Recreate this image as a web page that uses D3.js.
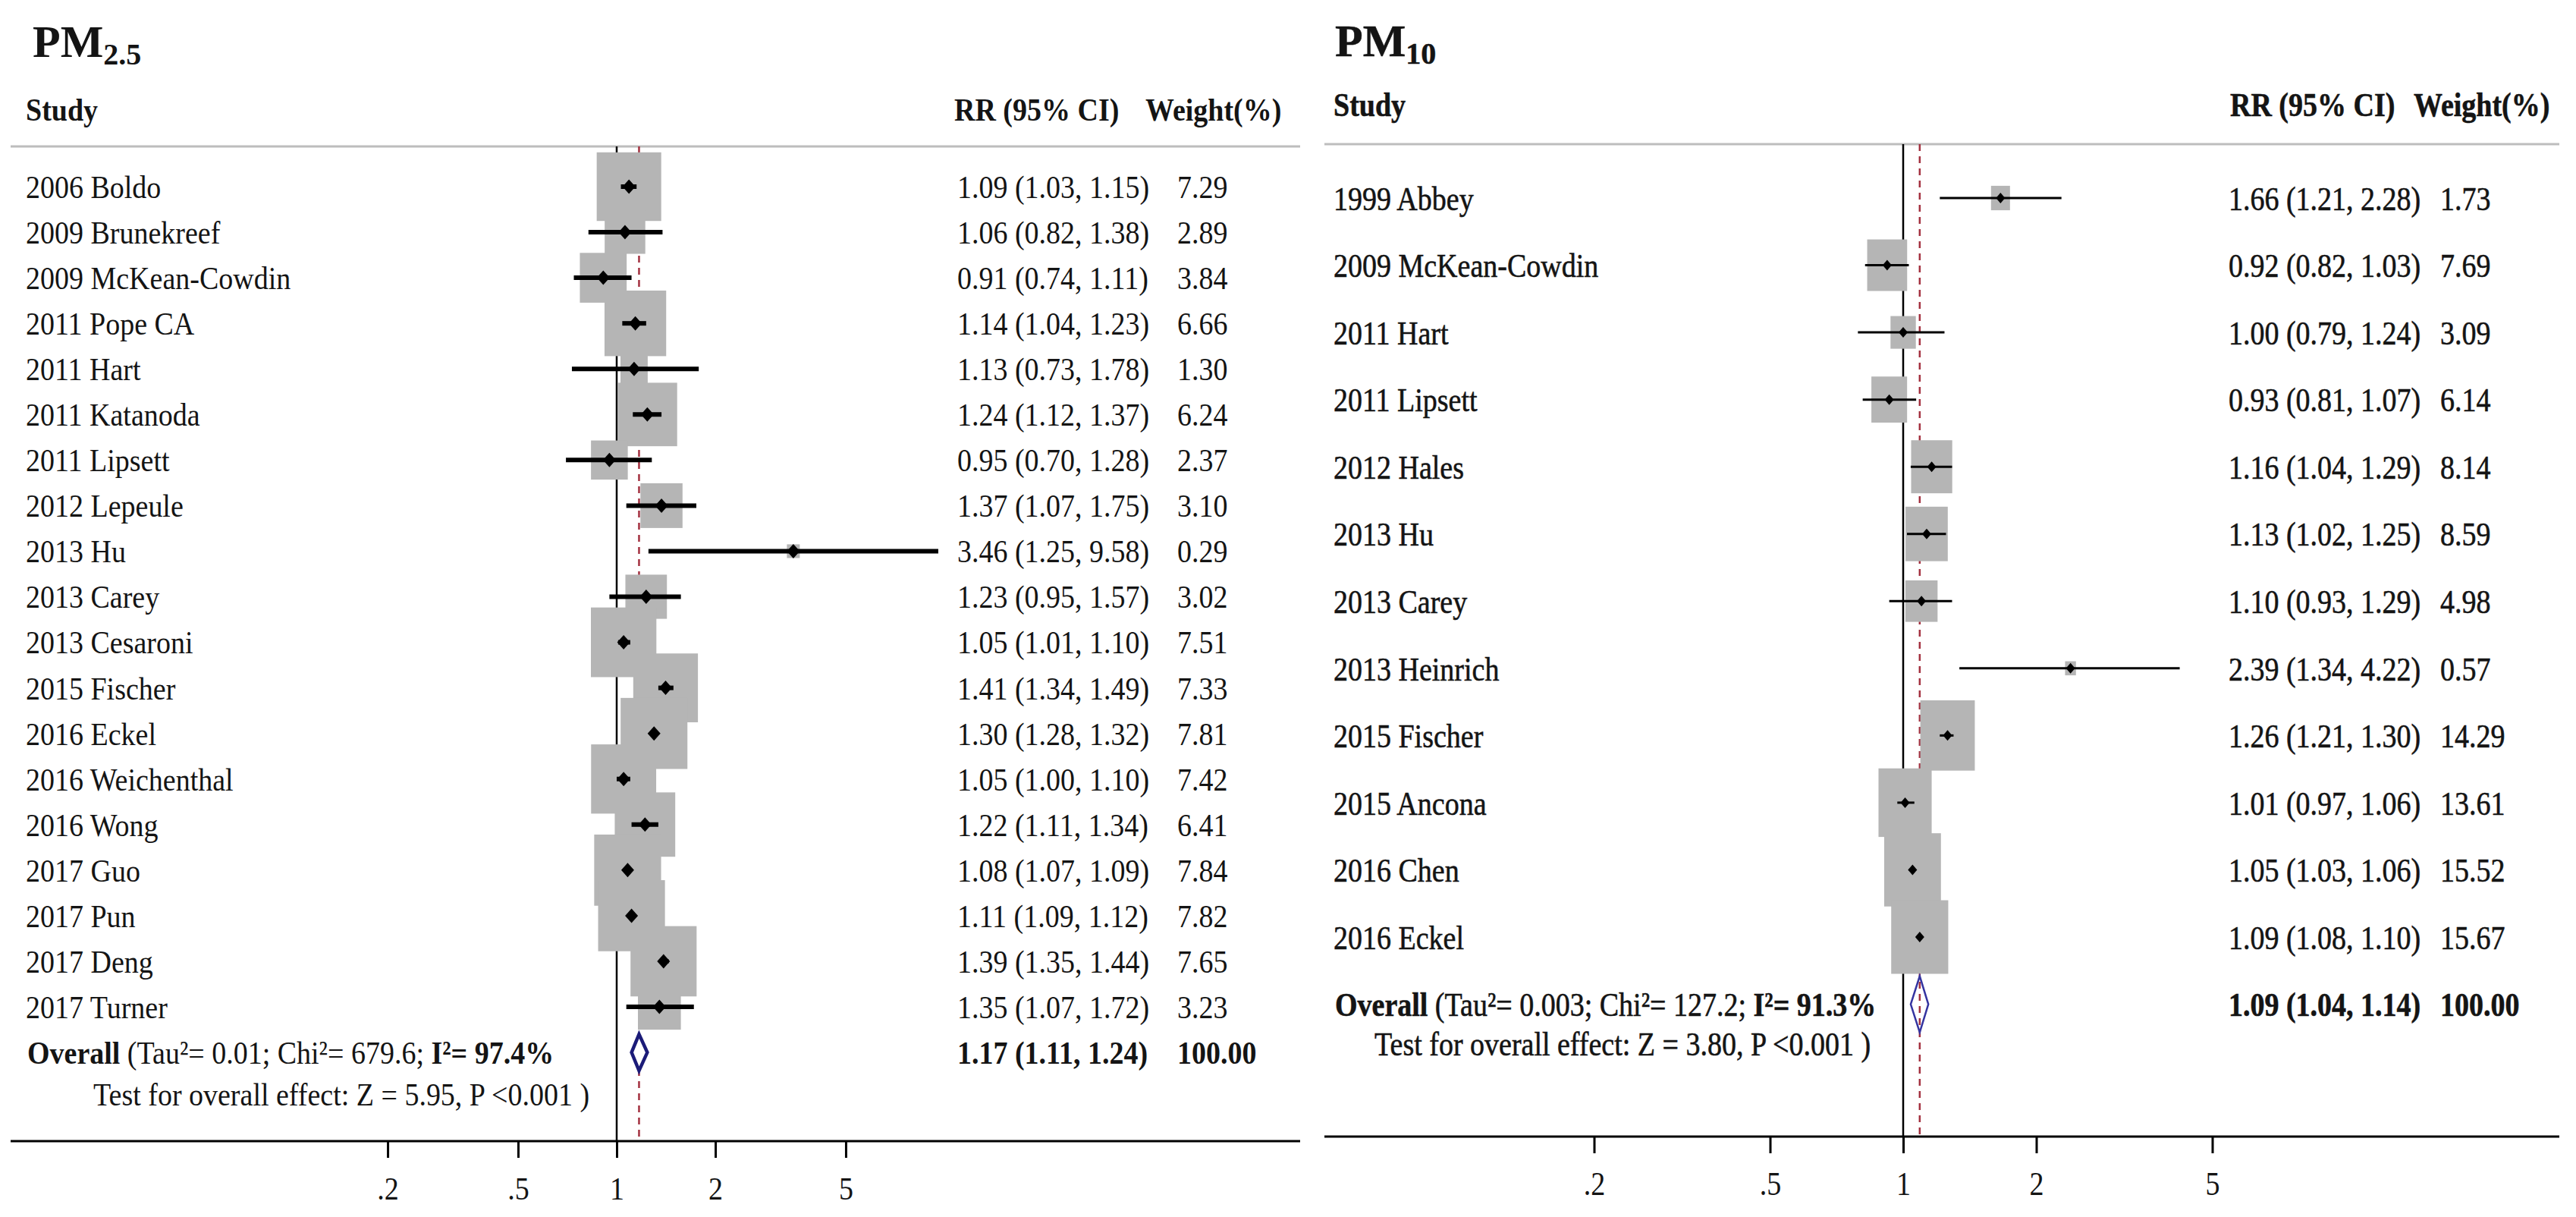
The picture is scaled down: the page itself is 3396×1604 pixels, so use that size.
<!DOCTYPE html>
<html>
<head>
<meta charset="utf-8">
<script src="https://cdn.jsdelivr.net/npm/d3@7/dist/d3.min.js"></script>
<style>
  html, body { margin: 0; padding: 0; background: #fff; }
  svg { display: block; }
</style>
</head>
<body>
<script>
// ---------------- DATA ----------------
const pm25Studies = ["2006 Boldo","2009 Brunekreef","2009 McKean-Cowdin","2011 Pope CA","2011 Hart","2011 Katanoda","2011 Lipsett","2012 Lepeule","2013 Hu","2013 Carey","2013 Cesaroni","2015 Fischer","2016 Eckel","2016 Weichenthal","2016 Wong","2017 Guo","2017 Pun","2017 Deng","2017 Turner"];
const pm25RR     = [1.09,1.06,0.91,1.14,1.13,1.24,0.95,1.37,3.46,1.23,1.05,1.41,1.30,1.05,1.22,1.08,1.11,1.39,1.35];
const pm25Lower  = [1.03,0.82,0.74,1.04,0.73,1.12,0.70,1.07,1.25,0.95,1.01,1.34,1.28,1.00,1.11,1.07,1.09,1.35,1.07];
const pm25Upper  = [1.15,1.38,1.11,1.23,1.78,1.37,1.28,1.75,9.58,1.57,1.10,1.49,1.32,1.10,1.34,1.09,1.12,1.44,1.72];
const pm25Weight = [7.29,2.89,3.84,6.66,1.30,6.24,2.37,3.10,0.29,3.02,7.51,7.33,7.81,7.42,6.41,7.84,7.82,7.65,3.23];
const pm25Overall = [1.17,1.11,1.24];          // RR, lower, upper
const pm25Heterogeneity = ["0.01","679.6","97.4%"]; // Tau2, Chi2, I2
const pm25Test = ["5.95","<0.001"];             // Z, P

const pm10Studies = ["1999 Abbey","2009 McKean-Cowdin","2011 Hart","2011 Lipsett","2012 Hales","2013 Hu","2013 Carey","2013 Heinrich","2015 Fischer","2015 Ancona","2016 Chen","2016 Eckel"];
const pm10RR     = [1.66,0.92,1.00,0.93,1.16,1.13,1.10,2.39,1.26,1.01,1.05,1.09];
const pm10Lower  = [1.21,0.82,0.79,0.81,1.04,1.02,0.93,1.34,1.21,0.97,1.03,1.08];
const pm10Upper  = [2.28,1.03,1.24,1.07,1.29,1.25,1.29,4.22,1.30,1.06,1.06,1.10];
const pm10Weight = [1.73,7.69,3.09,6.14,8.14,8.59,4.98,0.57,14.29,13.61,15.52,15.67];
const pm10Overall = [1.09,1.04,1.14];
const pm10Heterogeneity = ["0.003","127.2","91.3%"];
const pm10Test = ["3.80","<0.001"];

const axisTicks = [0.2, 0.5, 1, 2, 5];
const axisTickLabels = [".2", ".5", "1", "2", "5"];
const totalWeightLabel = "100.00";

// ---------------- DRAWING ----------------
const W = 3396, H = 1604;
const FONT = "'Liberation Serif', 'Times New Roman', Times, serif";
const svg = d3.select("body").append("svg")
  .attr("width", W).attr("height", H)
  .attr("viewBox", `0 0 ${W} ${H}`);
svg.append("rect").attr("width", W).attr("height", H).attr("fill", "#fff");

const fmt = d3.format(".2f");

function drawPanel(opt, d) {
  const g = svg.append("g");
  const x = d3.scaleLog().domain([0.1, 10]).range([opt.one - opt.decade, opt.one + opt.decade]);
  const n = d.studies.length;
  const y = d3.scaleLinear().domain([0, n - 1]).range([opt.rowFirst, opt.rowLast]);
  const step = (opt.rowLast - opt.rowFirst) / (n - 1);
  const yOverall = opt.rowLast + step;

  function text(parent, tx, ty, dy) {
    return parent.append("text")
      .attr("transform", `translate(${tx},${ty}) scale(1,${opt.sy})`)
      .attr("font-family", FONT)
      .attr("font-size", 38)
      .attr("fill", "#141414")
      .attr("stroke", opt.textStroke ? "#141414" : "none")
      .attr("stroke-width", opt.textStroke || 0)
      .attr("dy", dy);
  }

  // title
  const title = text(g, opt.titleX, opt.titleBase, 0).attr("font-weight", "bold").attr("font-size", 60)
    .attr("transform", `translate(${opt.titleX},${opt.titleBase})`);
  title.append("tspan").text("PM");
  title.append("tspan").attr("font-size", 40).attr("dy", 10).text(opt.sub);

  // headers
  text(g, opt.labelX, opt.headY, "0.35em").attr("font-weight", "bold").text("Study");
  text(g, opt.rrHeadX, opt.headY, "0.35em").attr("font-weight", "bold").text("RR (95% CI)");
  text(g, opt.wHeadX, opt.headY, "0.35em").attr("font-weight", "bold").text("Weight(%)");

  // top grey rule
  g.append("line").attr("x1", opt.left).attr("x2", opt.right)
    .attr("y1", opt.topLine).attr("y2", opt.topLine)
    .attr("stroke", "#bdbdbd").attr("stroke-width", 3);

  // reference lines
  g.append("line").attr("x1", x(1)).attr("x2", x(1))
    .attr("y1", opt.topLine).attr("y2", opt.axisY)
    .attr("stroke", "#000").attr("stroke-width", 2.5);
  g.append("line").attr("x1", x(d.overall[0])).attr("x2", x(d.overall[0]))
    .attr("y1", opt.topLine).attr("y2", opt.axisY)
    .attr("stroke", "#a3303f").attr("stroke-width", 2.5).attr("stroke-dasharray", "9,7");

  const idx = d3.range(n);
  // weight boxes
  g.selectAll("rect.box").data(idx).join("rect").attr("class", "box")
    .attr("x", i => x(d.rr[i]) - opt.kx * Math.sqrt(d.weight[i]) / 2)
    .attr("y", i => y(i) - opt.ky * Math.sqrt(d.weight[i]) / 2)
    .attr("width", i => opt.kx * Math.sqrt(d.weight[i]))
    .attr("height", i => opt.ky * Math.sqrt(d.weight[i]))
    .attr("fill", "#b5b5b5");

  // CI lines
  g.selectAll("line.ci").data(idx).join("line").attr("class", "ci")
    .attr("x1", i => x(d.lo[i])).attr("x2", i => x(d.hi[i]))
    .attr("y1", i => y(i)).attr("y2", i => y(i))
    .attr("stroke", "#000").attr("stroke-width", opt.ciW);

  // point markers (diamonds)
  const mw = opt.markW / 2, mh = opt.markH / 2;
  g.selectAll("path.pt").data(idx).join("path").attr("class", "pt")
    .attr("d", i => {
      const cx = x(d.rr[i]), cy = y(i);
      return `M${cx - mw},${cy}L${cx},${cy - mh}L${cx + mw},${cy}L${cx},${cy + mh}Z`;
    })
    .attr("fill", "#000");

  // overall diamond
  const ov = d.overall;
  const dh = opt.diamondH / 2;
  g.append("path")
    .attr("d", `M${x(ov[1])},${yOverall}L${x(ov[0])},${yOverall - dh}L${x(ov[2])},${yOverall}L${x(ov[0])},${yOverall + dh}Z`)
    .attr("fill", opt.diamondFill)
    .attr("stroke", opt.diamondColor)
    .attr("stroke-width", opt.diamondW)
    .attr("stroke-linejoin", "miter");

  // row texts
  idx.forEach(i => {
    text(g, opt.labelX, y(i), "0.35em").text(d.studies[i]);
    text(g, opt.rrX, y(i), "0.35em").text(`${fmt(d.rr[i])} (${fmt(d.lo[i])}, ${fmt(d.hi[i])})`);
    text(g, opt.wX, y(i), "0.35em").text(fmt(d.weight[i]));
  });

  // overall texts
  const ot = text(g, opt.labelX + 2, yOverall, "0.35em");
  ot.append("tspan").attr("font-weight", "bold").text("Overall");
  ot.append("tspan").text(`${opt.ovGap}(Tau\u00B2= ${d.het[0]}; Chi\u00B2= ${d.het[1]}; `);
  ot.append("tspan").attr("font-weight", "bold").text(`I\u00B2= ${d.het[2]}`);
  text(g, opt.testX, yOverall + opt.testGap, "0.35em")
    .text(`Test for overall effect: Z = ${d.test[0]}, P ${d.test[1]} )`);
  text(g, opt.rrX, yOverall, "0.35em").attr("font-weight", "bold")
    .text(`${fmt(ov[0])} (${fmt(ov[1])}, ${fmt(ov[2])})`);
  text(g, opt.wX, yOverall, "0.35em").attr("font-weight", "bold").text(totalWeightLabel);

  // x axis
  g.append("line").attr("x1", opt.left).attr("x2", opt.right)
    .attr("y1", opt.axisY).attr("y2", opt.axisY)
    .attr("stroke", "#000").attr("stroke-width", 3);
  const ax = g.append("g").attr("transform", `translate(0,${opt.axisY})`)
    .call(d3.axisBottom(x).tickValues(axisTicks)
      .tickFormat((v, i) => axisTickLabels[i]).tickSize(opt.tickLen));
  ax.select(".domain").remove();
  ax.selectAll(".tick line").attr("stroke", "#000").attr("stroke-width", 3);
  ax.selectAll(".tick text")
    .attr("y", 0)
    .attr("transform", `translate(0,${opt.tickLabelOff}) scale(1,${opt.sy})`)
    .attr("dy", "0.35em")
    .attr("font-family", FONT).attr("font-size", 38).attr("fill", "#141414");
}

drawPanel({
  left: 14, right: 1714, topLine: 193, axisY: 1504,
  one: 813, decade: 432,
  rowFirst: 246, rowLast: 1327,
  titleX: 43, titleBase: 75, sub: "2.5",
  headY: 144, labelX: 34, rrHeadX: 1258, wHeadX: 1510, rrX: 1262, wX: 1552,
  kx: 31.5, ky: 33.5, ciW: 6, markW: 17, markH: 19,
  diamondH: 48, diamondColor: "#1b1b78", diamondW: 4.5, diamondFill: "#fff",
  ovGap: "  ", testX: 123, testGap: 55,
  tickLen: 22, tickLabelOff: 62, sy: 1.12, textStroke: 0
}, {
  studies: pm25Studies, rr: pm25RR, lo: pm25Lower, hi: pm25Upper, weight: pm25Weight,
  overall: pm25Overall, het: pm25Heterogeneity, test: pm25Test
});

drawPanel({
  left: 1746, right: 3374, topLine: 190, axisY: 1498,
  one: 2509, decade: 583,
  rowFirst: 261, rowLast: 1235,
  titleX: 1760, titleBase: 74, sub: "10",
  headY: 137, labelX: 1758, rrHeadX: 2940, wHeadX: 3182, rrX: 2938, wX: 3217,
  kx: 19, ky: 24.5, ciW: 3, markW: 12, markH: 14,
  diamondH: 74, diamondColor: "#3434a0", diamondW: 2.5, diamondFill: "none",
  ovGap: " ", testX: 1812, testGap: 52,
  tickLen: 22, tickLabelOff: 61, sy: 1.18, textStroke: 0.5
}, {
  studies: pm10Studies, rr: pm10RR, lo: pm10Lower, hi: pm10Upper, weight: pm10Weight,
  overall: pm10Overall, het: pm10Heterogeneity, test: pm10Test
});
</script>
</body>
</html>
